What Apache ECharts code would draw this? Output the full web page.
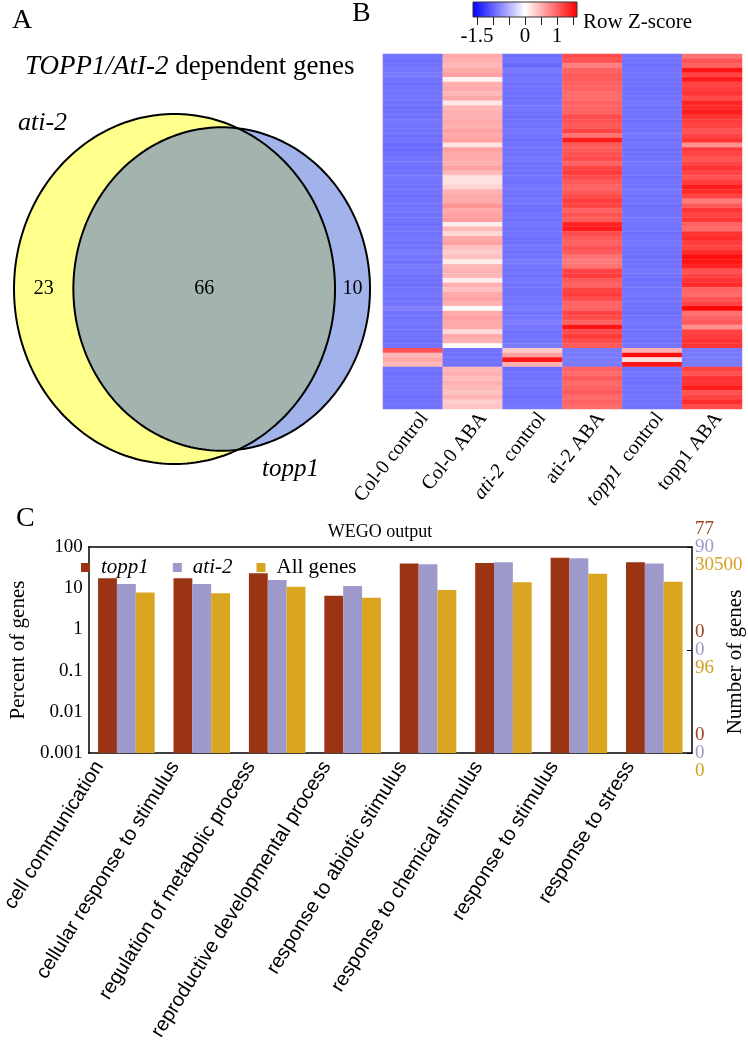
<!DOCTYPE html>
<html><head><meta charset="utf-8">
<script src="https://cdn.jsdelivr.net/npm/echarts@6/dist/echarts.min.js"></script>
<style>html,body{margin:0;padding:0;background:#fff}#c{width:748px;height:1062px}</style>
</head><body><div id="c"></div><script>
// ---------- Panel A: Venn counts ----------
const vennSetNames = ['ati-2', 'topp1'];
const vennOnlyAti2 = 23;
const vennBoth = 66;
const vennOnlyTopp1 = 10;

// ---------- Panel B: heatmap (row Z-scores) ----------
const hmColumns = ['Col-0 control', 'Col-0 ABA', 'ati-2  control', 'ati-2 ABA', 'topp1  control', 'topp1 ABA'];
const cbTicks = [-1.5, -1, -0.5, 0, 0.5, 1, 1.5];
const cbLabels = [-1.5, 0, 1];
const zCol0Control = [-0.9,-0.92,-0.9,-0.88,-0.85,-0.9,-0.92,-0.9,-0.9,-0.88,
 -0.9,-0.92,-0.9,-0.9,-0.88,-0.9,-0.9,-0.92,-0.9,-0.95,
 -0.95,-0.92,-0.9,-0.9,-0.92,-0.9,-0.88,-0.9,-0.9,-0.9,
 -0.92,-0.9,-0.9,-0.88,-0.9,-0.9,-0.92,-0.9,-0.9,-0.88,
 -0.9,-0.9,-0.85,-0.88,-0.9,-0.85,-0.88,-0.9,-0.9,-0.92,
 -0.9,-0.88,-0.9,-0.9,-0.8,-0.9,-0.9,-0.88,-0.9,-0.9,
 -0.9,-0.92,-0.9,
 1.1,0.45,0.55,0.45,
 -0.9,-0.92,-0.9,-0.9,-0.88,-0.9,-0.92,-0.9,-0.9];
const zCol0ABA = [0.55,0.5,0.45,0.55,0.62,0.08,0.5,0.55,0.45,0.55,
 0.15,0.45,0.5,0.5,0.55,0.5,0.6,0.55,0.6,0.18,
 0.6,0.55,0.55,0.5,0.6,0.45,0.2,0.2,0.28,0.5,
 0.55,0.55,0.68,0.55,0.6,0.62,0.12,0.45,0.25,0.55,
 0.6,0.4,0.32,0.4,0.12,0.45,0.5,0.45,0.12,0.5,
 0.4,0.55,0.6,0.5,0.02,0.55,0.6,0.55,0.55,0.25,
 0.55,0.5,0.03,
 -0.9,-0.9,-0.9,-0.9,
 0.45,0.5,0.42,0.5,0.45,0.38,0.48,0.32,0.38];
const zAti2Control = [-0.92,-0.9,-0.95,-0.85,-0.9,-0.88,-0.9,-0.9,-0.92,-0.9,
 -0.9,-0.88,-0.9,-0.92,-0.9,-0.9,-0.88,-0.9,-0.92,-0.9,
 -0.9,-0.9,-0.88,-0.9,-0.9,-0.9,-0.9,-0.92,-0.88,-0.9,
 -0.9,-0.88,-0.9,-0.92,-0.9,-0.9,-0.88,-0.9,-0.9,-0.92,
 -0.9,-0.88,-0.9,-0.9,-0.85,-0.88,-0.9,-0.9,-0.88,-0.9,
 -0.9,-0.9,-0.88,-0.9,-0.85,-0.9,-0.88,-0.82,-0.88,-0.9,
 -0.9,-0.88,-0.85,
 0.35,0.6,1.5,0.5,
 -0.92,-0.9,-0.9,-0.88,-0.9,-0.9,-0.92,-0.9,-0.88];
const zAti2ABA = [1.15,1.1,0.8,1.0,1.05,1.05,1.0,1.0,0.95,0.95,
 1.0,1.0,1.0,1.15,1.1,1.05,1.2,0.9,1.45,1.05,
 1.05,1.1,1.15,1.0,1.2,1.25,1.15,1.05,1.0,1.05,
 1.15,1.25,1.2,1.0,1.1,1.05,1.4,1.45,1.15,1.05,
 1.0,1.1,1.05,0.9,0.85,0.9,1.2,1.25,1.05,1.0,
 1.2,1.25,1.15,1.0,1.0,1.2,1.15,1.0,1.5,1.15,
 1.25,1.15,1.05,
 -0.85,-0.85,-0.85,-0.85,
 1.0,0.95,1.05,0.95,1.0,1.05,0.95,1.0,0.95];
const zTopp1Control = [-0.9,-0.9,-0.92,-0.9,-0.88,-0.9,-0.9,-0.92,-0.9,-0.9,
 -0.88,-0.9,-0.9,-0.9,-0.92,-0.9,-0.9,-0.88,-0.9,-0.9,
 -0.92,-0.9,-0.9,-0.88,-0.9,-0.9,-0.92,-0.9,-0.9,-0.88,
 -0.9,-0.9,-0.92,-0.9,-0.9,-0.88,-0.9,-0.9,-0.92,-0.9,
 -0.88,-0.9,-0.9,-0.92,-0.9,-0.9,-0.88,-0.9,-0.92,-0.9,
 -0.9,-0.88,-0.9,-0.9,-0.9,-0.92,-0.9,-0.88,-0.9,-0.9,
 -0.9,-0.9,-0.88,
 0.5,1.55,0.2,1.5,
 -0.9,-0.88,-0.9,-0.92,-0.9,-0.9,-0.88,-0.9,-0.9];
const zTopp1ABA = [0.9,1.1,1.0,1.5,1.2,1.45,1.2,1.25,1.3,1.15,
 1.4,1.35,1.45,1.3,1.25,1.2,1.1,1.2,1.3,0.7,
 1.25,1.2,1.1,1.2,1.3,1.2,1.1,1.25,1.45,1.35,
 1.2,0.85,1.05,1.3,1.2,1.3,1.0,0.95,1.3,1.35,
 1.25,1.2,1.35,1.55,1.5,1.4,1.1,1.2,1.3,1.35,
 1.0,0.95,1.1,1.2,1.6,0.9,1.0,1.05,0.7,1.2,
 1.25,1.3,1.3,
 -0.85,-0.85,-0.85,-0.85,
 1.2,1.1,1.3,1.3,1.45,1.1,1.2,1.35,1.15];

// ---------- Panel C: WEGO bars (percent of genes) ----------
const goCategories = ['cell communication', 'cellular response to stimulus', 'regulation of metabolic process',
  'reproductive developmental process', 'response to abiotic stimulus', 'response to chemical stimulus',
  'response to stimulus', 'response to stress'];
const pctTopp1 = [17.4, 17.4, 22.9, 6.6, 40, 41, 55, 42.5];
const pctAti2 = [12.6, 12.6, 15.8, 11.3, 38, 42.5, 53, 40];
const pctAll = [7.9, 7.5, 10.9, 5.9, 9.1, 13.9, 22.5, 14.4];
const barSeriesNames = ['topp1', 'ati-2', 'All genes'];
const rightTopp1 = ['0', '0', '77'];
const rightAti2 = ['0', '0', '90'];
const rightAll = ['0', '96', '30500'];

// ---------- helpers ----------
const SERIF = 'Liberation Serif';
const SANS = 'Liberation Sans';

// Venn geometry (area proportional)
const aAti2 = vennOnlyAti2 + vennBoth, aTopp1 = vennOnlyTopp1 + vennBoth;
const r1 = Math.sqrt(aAti2 / Math.PI), r2 = Math.sqrt(aTopp1 / Math.PI);
function lensArea(d) {
  if (d >= r1 + r2) return 0;
  if (d <= Math.abs(r1 - r2)) return Math.PI * Math.min(r1, r2) ** 2;
  const a1 = Math.acos((d * d + r1 * r1 - r2 * r2) / (2 * d * r1));
  const a2 = Math.acos((d * d + r2 * r2 - r1 * r1) / (2 * d * r2));
  const k = Math.sqrt((-d + r1 + r2) * (d + r1 - r2) * (d - r1 + r2) * (d + r1 + r2));
  return r1 * r1 * a1 + r2 * r2 * a2 - 0.5 * k;
}
let lo = Math.abs(r1 - r2), hi = r1 + r2;
for (let i = 0; i < 60; i++) { const m = (lo + hi) / 2; if (lensArea(m) > vennBoth) lo = m; else hi = m; }
const vd = (lo + hi) / 2;

function vennRender(params, api) {
  const P = (x, y) => api.coord([x, y]);
  const circ = (cx, r) => { const pts = []; for (let i = 0; i <= 240; i++) { const t = i / 240 * 2 * Math.PI; pts.push(P(cx + r * Math.cos(t), r * Math.sin(t))); } return pts; };
  const xi = (vd * vd + r1 * r1 - r2 * r2) / (2 * vd);
  const h = Math.sqrt(Math.max(0, r1 * r1 - xi * xi));
  const al1 = Math.atan2(h, xi), al2 = Math.atan2(h, xi - vd);
  const lens = [];
  for (let i = 0; i <= 120; i++) { const t = -al1 + 2 * al1 * i / 120; lens.push(P(r1 * Math.cos(t), r1 * Math.sin(t))); }
  for (let i = 0; i <= 120; i++) { const t = al2 + (2 * Math.PI - 2 * al2) * i / 120; lens.push(P(vd + r2 * Math.cos(t), r2 * Math.sin(t))); }
  const txt = (x, s) => { const p = P(x, 0); return { type: 'text', x: p[0], y: p[1], style: { text: s, align: 'center', verticalAlign: 'middle', font: '20px ' + SERIF, fill: '#000' } }; };
  return { type: 'group', children: [
    { type: 'polygon', shape: { points: circ(0, r1) }, style: { fill: '#FFFF8C' } },
    { type: 'polygon', shape: { points: circ(vd, r2) }, style: { fill: '#A2B3EB' } },
    { type: 'polygon', shape: { points: lens }, style: { fill: '#A2B4AD' } },
    { type: 'polygon', shape: { points: circ(0, r1) }, style: { fill: 'none', stroke: '#000', lineWidth: 2 } },
    { type: 'polygon', shape: { points: circ(vd, r2) }, style: { fill: 'none', stroke: '#000', lineWidth: 2 } },
    txt((-r1 + vd - r2) / 2, String(vennOnlyAti2)),
    txt((vd - r2 + r1) / 2, String(vennBoth)),
    txt((r1 + vd + r2) / 2, String(vennOnlyTopp1))
  ] };
}

// heatmap data
const hmCols = [zCol0Control, zCol0ABA, zAti2Control, zAti2ABA, zTopp1Control, zTopp1ABA];
const nRows = zCol0Control.length;
const hmData = [];
hmCols.forEach((col, ci) => col.forEach((v, ri) => hmData.push([ci, ri, v])));
const hmRows = Array.from({ length: nRows }, (_, i) => String(i));

// bars via custom series on the log axis
const LOG_MIN = 0.001, LOG_MAX = 100;
function barRender(k) {
  return function (params, api) {
    const i = api.value(0), v = api.value(1);
    const top = api.coord([i, v]);
    const base = api.coord([i, LOG_MIN]);
    const band = api.coord([1, v])[0] - api.coord([0, v])[0];
    const bw = band * 0.25;
    return { type: 'rect', shape: { x: top[0] + (k - 1) * bw - bw / 2, y: top[1], width: bw, height: base[1] - top[1] },
      style: { fill: api.visual('color') } };
  };
}
const barColors = ['#9A3412', '#9D9ACB', '#DAA520'];
const barValues = [pctTopp1, pctAti2, pctAll];

const chart = echarts.init(document.getElementById('c'), null, { renderer: 'canvas' });
const cbStops = [{ offset: 0, color: '#0000ff' }, { offset: 0.5, color: '#ffffff' }, { offset: 1, color: '#ff0000' }];
const hmRich = { i: { fontStyle: 'italic', fontFamily: SERIF, fontSize: 20, color: '#000' }, n: { fontFamily: SERIF, fontSize: 20, color: '#000' } };

chart.setOption({
  animation: false,
  backgroundColor: '#fff',
  grid: [
    { left: 14, top: 114, width: 356, height: 350 },
    { left: 473, top: 2, width: 104, height: 15 },
    { left: 383, top: 54, width: 359, height: 355 },
    { left: 68, top: 547, width: 624, height: 206 },
    { left: 395, top: 54, width: 359, height: 355 },
    { left: 44, top: 547, width: 624, height: 206 }
  ],
  xAxis: [
    { gridIndex: 0, type: 'value', min: -r1, max: vd + r2, show: false },
    { gridIndex: 1, type: 'value', min: -1.625, max: 1.625, position: 'bottom',
      axisLine: { show: false }, splitLine: { show: false },
      axisTick: { show: true, customValues: cbTicks, length: 8, lineStyle: { color: '#222', width: 1 } },
      axisLabel: { customValues: cbLabels, color: '#000', fontFamily: SERIF, fontSize: 21, margin: 9,
        formatter: v => String(v) } },
    { gridIndex: 2, type: 'category', data: hmColumns, axisLine: { show: false }, axisTick: { show: false }, axisLabel: { show: false } },
    { gridIndex: 3, type: 'category', data: goCategories, position: 'bottom',
      axisLine: { lineStyle: { color: '#000', width: 1.5 } },
      axisTick: { inside: true, length: 5, lineStyle: { color: '#000' } },
      axisLabel: { show: false } },
    { gridIndex: 3, type: 'category', data: goCategories, position: 'top',
      axisLine: { lineStyle: { color: '#000', width: 1.5 } },
      axisTick: { inside: true, length: 5, lineStyle: { color: '#000' } },
      axisLabel: { show: false } },
    { gridIndex: 4, type: 'category', data: hmColumns, axisLine: { show: false }, axisTick: { show: false },
      axisLabel: { rotate: 52, margin: 6, color: '#000', fontFamily: SERIF, fontSize: 20, interval: 0,
        formatter: v => { const m = v.match(/^(ati-2|topp1)(\s+control)$/); return m ? '{i|' + m[1] + '}{n|' + m[2] + '}' : '{n|' + v + '}'; },
        rich: hmRich } },
    { gridIndex: 5, type: 'category', data: goCategories, position: 'bottom',
      axisLine: { show: false }, axisTick: { show: false },
      axisLabel: { rotate: 58, margin: 10, interval: 0, color: '#000', fontFamily: SANS, fontSize: 20 } }
  ],
  yAxis: [
    { gridIndex: 0, type: 'value', min: -r1, max: r1, show: false },
    { gridIndex: 1, type: 'value', min: 0, max: 1, show: false },
    { gridIndex: 2, type: 'category', data: hmRows, inverse: true, show: false },
    { gridIndex: 3, type: 'log', logBase: 10, min: LOG_MIN, max: LOG_MAX, position: 'left',
      name: 'Percent of genes', nameLocation: 'middle', nameGap: 48,
      nameTextStyle: { fontFamily: SERIF, fontSize: 21, color: '#000' },
      axisLine: { show: true, lineStyle: { color: '#000', width: 1.5 } }, axisTick: { show: false },
      splitLine: { show: false },
      axisLabel: { color: '#000', fontFamily: SERIF, fontSize: 19, margin: 6, formatter: v => String(+(+v).toPrecision(1)) } },
    { gridIndex: 3, type: 'value', min: 0, max: 2, interval: 1, position: 'right',
      axisLine: { show: true, lineStyle: { color: '#000', width: 1.5 } },
      axisTick: { show: true, inside: true, length: 5, lineStyle: { color: '#000' } },
      splitLine: { show: false },
      axisLabel: { margin: 3, fontFamily: SERIF, fontSize: 19, lineHeight: 18,
        formatter: (v) => { const i = Math.round(v); return '{a|' + rightTopp1[i] + '}\n{b|' + rightAti2[i] + '}\n{c|' + rightAll[i] + '}'; },
        rich: { a: { color: '#A0401E', fontFamily: SERIF, fontSize: 19, lineHeight: 18 },
                b: { color: '#9D9ACB', fontFamily: SERIF, fontSize: 19, lineHeight: 18 },
                c: { color: '#D4A020', fontFamily: SERIF, fontSize: 19, lineHeight: 18 } } } },
    { gridIndex: 4, type: 'value', show: false },
    { gridIndex: 5, type: 'value', show: false }
  ],
  visualMap: { type: 'continuous', show: false, min: -1.625, max: 1.625, seriesIndex: 1,
    inRange: { color: ['#0000ff', '#ffffff', '#ff0000'] } },
  legend: { left: 76, top: 552, icon: 'rect', itemWidth: 9, itemHeight: 9, itemGap: 24, data: barSeriesNames,
    formatter: n => n === 'All genes' ? '{n|' + n + '}' : '{i|' + n + '}',
    textStyle: { fontFamily: SERIF, fontSize: 21, color: '#000',
      rich: { i: { fontStyle: 'italic', fontFamily: SERIF, fontSize: 21, color: '#000', padding: [0, 0, 0, 6] },
              n: { fontFamily: SERIF, fontSize: 21, color: '#000', padding: [0, 0, 0, 6] } } } },
  series: [
    { type: 'custom', xAxisIndex: 0, yAxisIndex: 0, data: [[0, 0]], renderItem: vennRender, silent: true, clip: false },
    { type: 'heatmap', xAxisIndex: 2, yAxisIndex: 2, data: hmData, emphasis: { disabled: true }, progressive: 0,
      itemStyle: { borderColor: 'rgba(255,255,255,0.12)', borderWidth: 0.5 } },
    ...barSeriesNames.map((n, k) => ({ type: 'custom', name: n, xAxisIndex: 3, yAxisIndex: 3,
      itemStyle: { color: barColors[k] }, encode: { x: 0, y: 1 },
      data: barValues[k].map((v, i) => [i, v]), renderItem: barRender(k) }))
  ],
  graphic: [
    { type: 'text', left: 12, top: 7, style: { text: 'A', font: '28px ' + SERIF, fill: '#000' } },
    { type: 'text', left: 352, top: 0, style: { text: 'B', font: '28px ' + SERIF, fill: '#000' } },
    { type: 'text', left: 16, top: 505, style: { text: 'C', font: '28px ' + SERIF, fill: '#000' } },
    { type: 'text', left: 25, top: 53, style: { text: '{i|TOPP1/AtI-2} dependent genes', font: '27px ' + SERIF, fill: '#000',
      rich: { i: { fontStyle: 'italic', font: 'italic 27px ' + SERIF } } } },
    { type: 'text', left: 18, top: 110, style: { text: vennSetNames[0], font: 'italic 26px ' + SERIF, fill: '#000' } },
    { type: 'text', left: 262, top: 457, style: { text: vennSetNames[1], font: 'italic 25px ' + SERIF, fill: '#000' } },
    { type: 'rect', shape: { x: 473, y: 2, width: 104, height: 15 },
      style: { fill: new echarts.graphic.LinearGradient(0, 0, 1, 0, cbStops), stroke: '#333', lineWidth: 1 } },
    { type: 'text', left: 583, top: 12, style: { text: 'Row Z-score', font: '21px ' + SERIF, fill: '#000' } },
    { type: 'text', x: 380, y: 532, style: { text: 'WEGO output', font: '18px ' + SERIF, fill: '#000', align: 'center', verticalAlign: 'middle' } },
    { type: 'text', x: 735, y: 662, rotation: Math.PI / 2, style: { text: 'Number of genes', font: '21px ' + SERIF, fill: '#000', align: 'center', verticalAlign: 'middle' } }
  ]
});
</script></body></html>
